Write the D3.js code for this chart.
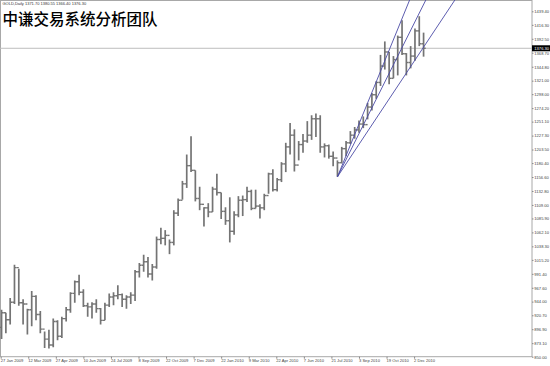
<!DOCTYPE html>
<html>
<head>
<meta charset="utf-8">
<script src="https://cdn.jsdelivr.net/npm/d3@7"></script>
<style>
  body { margin: 0; background: #fff; }
  svg { display: block; }
  .ax text { font-family: "Liberation Sans", Arial, sans-serif; font-size: 4.1px; fill: #444; }
</style>
</head>
<body>
<div id="chart"></div>
<script>
const header = "GOLD,Daily  1371.70 1380.55 1366.40 1376.30";
const title = "中谦交易系统分析团队";
const lastPrice = 1376.30;

// weekly bars, week of 26 Jan 2009 .. week of 13 Dec 2010
const firstOpen = 900;
const weekHigh = [930, 925, 950, 1007, 1000, 948, 932, 962, 955, 928,
  893, 896, 915, 912, 918, 935, 960, 980, 990, 965,
  942, 943, 948, 933, 942, 958, 960, 972, 958, 955,
  960, 998, 1010, 1024, 1020, 1008, 1055, 1070, 1066, 1050,
  1100, 1120, 1150, 1195, 1226, 1168, 1140, 1105, 1112, 1140,
  1162, 1130, 1105, 1122, 1098, 1124, 1125, 1140, 1135, 1135,
  1110, 1128, 1164, 1170, 1155, 1182, 1215, 1249, 1238, 1218,
  1230, 1252, 1262, 1265, 1262, 1214, 1212, 1200, 1185, 1208,
  1218, 1235, 1242, 1253, 1260, 1283, 1300, 1320, 1365, 1388,
  1370, 1363, 1398, 1424, 1368, 1380, 1410, 1431, 1403];
const weekLow = [880, 890, 905, 940, 937, 905, 888, 902, 912, 890,
  865, 864, 866, 878, 882, 910, 925, 942, 955, 935,
  918, 915, 925, 905, 912, 935, 938, 948, 935, 932,
  940, 945, 985, 995, 985, 980, 1000, 1042, 1040, 1025,
  1040, 1090, 1118, 1138, 1165, 1115, 1100, 1072, 1088, 1097,
  1125, 1085, 1075, 1045, 1058, 1088, 1090, 1114, 1100, 1103,
  1086, 1100, 1128, 1132, 1132, 1148, 1165, 1195, 1166, 1185,
  1198, 1215, 1220, 1225, 1198, 1190, 1188, 1175, 1157, 1180,
  1192, 1213, 1222, 1232, 1240, 1255, 1270, 1290, 1312, 1340,
  1315, 1325, 1330, 1365, 1330, 1342, 1355, 1380, 1362];
const weekClose = [925, 913, 943, 1002, 942, 940, 930, 953, 922, 897,
  880, 870, 910, 885, 915, 930, 958, 978, 960, 937,
  935, 940, 932, 912, 938, 952, 954, 956, 948, 952,
  955, 995, 1006, 1012, 991, 1003, 1050, 1052, 1057, 1045,
  1095, 1117, 1145, 1176, 1168, 1120, 1110, 1104, 1097, 1136,
  1130, 1098, 1082, 1064, 1092, 1117, 1118, 1132, 1103, 1107,
  1104, 1125, 1162, 1135, 1152, 1179, 1208, 1228, 1177, 1212,
  1218, 1228, 1256, 1256, 1208, 1210, 1192, 1189, 1181, 1205,
  1215, 1228, 1237, 1247, 1246, 1276, 1297, 1318, 1346, 1370,
  1325, 1357, 1395, 1367, 1352, 1363, 1406, 1384, 1376.3];

// time axis: trading-day offsets from 27 Jan 2009
const xTickDays = [0, 32, 64, 96, 128, 160, 192, 224, 256, 288, 320, 352, 384, 416, 448, 480];
const xLabels = ["27 Jan 2009", "12 Mar 2009", "27 Apr 2009", "10 Jun 2009", "24 Jul 2009",
  "8 Sep 2009", "22 Oct 2009", "7 Dec 2009", "22 Jan 2010", "9 Mar 2010", "22 Apr 2010",
  "7 Jun 2010", "21 Jul 2010", "3 Sep 2010", "19 Oct 2010", "2 Dec 2010"];
const yTicks = [850.00, 873.10, 896.90, 920.70, 944.00, 967.60, 991.40, 1015.20, 1038.30,
  1062.10, 1085.90, 1109.00, 1132.80, 1156.60, 1180.40, 1203.50, 1227.30, 1251.10, 1274.20,
  1298.00, 1321.00, 1344.80, 1368.70, 1392.50, 1416.30, 1439.40];

// fan lines from the July 2010 low: [week, price]
const fanStart = [78, 1157];
const fanThrough = [[92.5, 1418], [96.3, 1426], [94.0, 1334]];

const W = 550, H = 366;
const plotR = 532, plotB = 356.7;

const svg = d3.select("#chart").append("svg")
  .attr("width", W).attr("height", H)
  .style("background", "#fff");

const x = d3.scaleLinear().domain([0, 480]).range([0.7, 414.1]);
const y = d3.scaleLinear().domain([850, 1439.4]).range([plotB, 11.3]);
const dayOf = w => 5 * w + 1;
const half = (x(5) - x(0)) / 2;

svg.append("clipPath").attr("id", "plot")
  .append("rect").attr("x", 0).attr("y", 0).attr("width", plotR).attr("height", plotB);

// frame
svg.append("rect")
  .attr("x", 0.5).attr("y", 0.5)
  .attr("width", plotR - 0.5).attr("height", plotB - 0.5)
  .attr("fill", "none").attr("stroke", "#a8a8a8").attr("stroke-width", 1);

// current price line
svg.append("line")
  .attr("x1", 0).attr("x2", plotR)
  .attr("y1", y(lastPrice)).attr("y2", y(lastPrice))
  .attr("stroke", "#bdbdbd").attr("stroke-width", 1);

const plot = svg.append("g").attr("clip-path", "url(#plot)");

const bars = weekHigh.map((h, i) => ({
  i: i, high: h, low: weekLow[i], close: weekClose[i],
  open: i === 0 ? firstOpen : weekClose[i - 1]
}));

const bar = plot.selectAll(".bar").data(bars).enter().append("g").attr("class", "bar")
  .attr("stroke", "#747474");

bar.append("line")
  .attr("x1", d => x(dayOf(d.i))).attr("x2", d => x(dayOf(d.i)))
  .attr("y1", d => y(d.high)).attr("y2", d => y(d.low))
  .attr("stroke-width", 1.7);
bar.append("line")
  .attr("x1", d => x(dayOf(d.i)) - half).attr("x2", d => x(dayOf(d.i)))
  .attr("y1", d => y(d.open)).attr("y2", d => y(d.open))
  .attr("stroke-width", 1.4);
bar.append("line")
  .attr("x1", d => x(dayOf(d.i))).attr("x2", d => x(dayOf(d.i)) + half)
  .attr("y1", d => y(d.close)).attr("y2", d => y(d.close))
  .attr("stroke-width", 1.4);

// fan lines
const topPrice = y.invert(0);
fanThrough.forEach(p => {
  const wEnd = fanStart[0] + (topPrice - fanStart[1]) / (p[1] - fanStart[1]) * (p[0] - fanStart[0]);
  plot.append("line")
    .attr("x1", x(dayOf(fanStart[0]))).attr("y1", y(fanStart[1]))
    .attr("x2", x(dayOf(wEnd))).attr("y2", y(topPrice))
    .attr("stroke", "#4b4ba6").attr("stroke-width", 0.9);
});

// axes
const xAxis = svg.append("g").attr("class", "ax")
  .attr("transform", `translate(0,${plotB})`)
  .call(d3.axisBottom(x).tickValues(xTickDays).tickFormat((d, i) => xLabels[i])
    .tickSizeInner(2).tickSizeOuter(0).tickPadding(0.5));
xAxis.select(".domain").remove();
xAxis.selectAll("line").attr("stroke", "#888");
xAxis.selectAll("text").attr("text-anchor", "start").attr("dx", -0.5);

const yAxis = svg.append("g").attr("class", "ax")
  .attr("transform", `translate(${plotR},0)`)
  .call(d3.axisRight(y).tickValues(yTicks).tickFormat(d3.format(".2f"))
    .tickSizeInner(1.5).tickSizeOuter(0).tickPadding(0.8));
yAxis.select(".domain").remove();
yAxis.selectAll("line").attr("stroke", "#888");

// last price box
svg.append("rect")
  .attr("x", plotR).attr("y", y(lastPrice) - 3)
  .attr("width", W - plotR).attr("height", 6)
  .attr("fill", "#000");
svg.append("text")
  .attr("x", plotR + 2.3).attr("y", y(lastPrice) + 1.5)
  .attr("font-family", "Liberation Sans, Arial, sans-serif")
  .attr("font-size", 4.1).attr("fill", "#fff")
  .text(d3.format(".2f")(lastPrice));

// texts
svg.append("text")
  .attr("x", 2.5).attr("y", 5)
  .attr("font-family", "Liberation Sans, Arial, sans-serif")
  .attr("font-size", 4).attr("fill", "#333")
  .text(header);

svg.append("text")
  .attr("x", 2.5).attr("y", 24.5)
  .attr("font-family", "Noto Sans CJK SC, sans-serif")
  .attr("font-size", 15.5).attr("font-weight", 500).attr("fill", "#000")
  .text(title);
</script>
</body>
</html>
